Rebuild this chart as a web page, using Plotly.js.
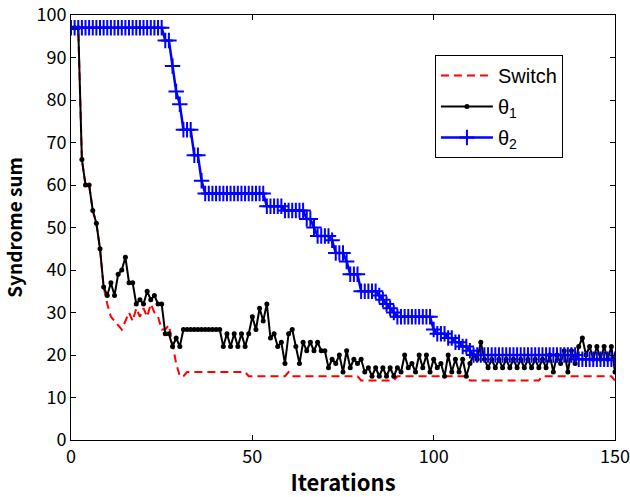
<!DOCTYPE html>
<html>
<head>
<meta charset="utf-8">
<script src="https://cdn.plot.ly/plotly-3.0.1.min.js"></script>
<style>html,body{margin:0;padding:0;background:#fff;}#chart{width:630px;height:497px;}</style>
</head>
<body>
<div id="chart"></div>
<script>
// Syndrome sum per iteration (iterations 0..150)
const switchVals = [
  97, 97, 97, 66, 60, 60, 54, 51, 45, 36,
  32, 29, 28, 27, 26, 28, 30, 28, 31, 29,
  31, 29, 32, 30, 29, 26, 26, 27, 22, 18,
  15, 15, 16, 16, 16, 16, 16, 16, 16, 16,
  16, 16, 16, 16, 16, 16, 16, 16, 16, 15,
  15, 15, 15, 15, 15, 15, 15, 15, 15, 15,
  16, 15, 15, 15, 15, 15, 15, 15, 15, 15,
  15, 15, 15, 15, 15, 15, 15, 15, 15, 15,
  14, 14, 14, 14, 14, 14, 14, 14, 14, 14,
  15, 15, 15, 15, 15, 15, 15, 15, 15, 15,
  15, 15, 15, 15, 15, 15, 15, 15, 15, 15,
  14, 14, 14, 14, 14, 14, 14, 14, 14, 14,
  14, 14, 14, 14, 14, 14, 14, 14, 14, 14,
  15, 15, 15, 15, 15, 15, 15, 15, 15, 15,
  15, 15, 15, 15, 15, 15, 15, 15, 15, 15,
  14
];
const theta1Vals = [
  97, 97, 97, 66, 60, 60, 54, 51, 45, 36,
  34, 37, 34, 39, 40, 43, 37, 37, 32, 33,
  32, 35, 33, 34, 32, 32, 25, 25, 22, 24,
  22, 26, 26, 26, 26, 26, 26, 26, 26, 26,
  26, 26, 22, 25, 22, 25, 22, 25, 22, 25,
  29, 26, 31, 28, 32, 24, 25, 22, 23, 18,
  25, 26, 22, 18, 23, 21, 23, 21, 23, 21,
  21, 17, 19, 18, 20, 16, 21, 17, 19, 18,
  19, 16, 17, 15, 17, 15, 17, 15, 17, 15,
  17, 16, 20, 17, 18, 16, 20, 17, 20, 16,
  19, 17, 18, 15, 20, 16, 19, 16, 19, 15,
  18, 20, 19, 23, 19, 17, 19, 17, 19, 17,
  19, 17, 19, 17, 19, 17, 19, 17, 19, 17,
  19, 17, 20, 16, 20, 18, 21, 16, 21, 18,
  22, 24, 20, 22, 19, 22, 19, 22, 19, 22,
  16
];
const theta2Vals = [
  97, 97, 97, 97, 97, 97, 97, 97, 97, 97,
  97, 97, 97, 97, 97, 97, 97, 97, 97, 97,
  97, 97, 97, 97, 97, 97, 94, 94, 88, 82,
  79, 73, 73, 73, 67, 67, 61, 58, 58, 58,
  58, 58, 58, 58, 58, 58, 58, 58, 58, 58,
  58, 58, 58, 58, 55, 55, 55, 55, 55, 54,
  54, 54, 54, 54, 54, 52, 52, 50, 48, 48,
  48, 48, 47, 44, 44, 44, 42, 39, 39, 39,
  35, 35, 35, 35, 35, 34, 33, 32, 31, 30,
  29, 29, 29, 29, 29, 29, 29, 29, 29, 29,
  26, 25, 25, 25, 24, 24, 23, 23, 22, 22,
  21, 20, 20, 20, 20, 20, 20, 20, 20, 20,
  20, 20, 20, 20, 20, 20, 20, 20, 20, 20,
  20, 20, 20, 20, 20, 20, 20, 20, 20, 20,
  19, 19, 19, 19, 19, 19, 19, 19, 19, 19,
  19
];
const seriesNames = ['Switch', 'θ<sub>1</sub>', 'θ<sub>2</sub>'];
const xTickVals = [0, 50, 100, 150];
const yTickVals = [0, 10, 20, 30, 40, 50, 60, 70, 80, 90, 100];
const xTitle = 'Iterations';
const yTitle = 'Syndrome sum';

const iters = switchVals.map((_, i) => i);

const tickFont = {family: 'Noto Sans CJK JP, DejaVu Sans Condensed, sans-serif', size: 18, color: '#000'};
const xTitleFont = {family: 'Noto Sans CJK JP, sans-serif', size: 22, color: '#000', weight: 700};
const yTitleFont = {family: 'Noto Sans CJK JP, sans-serif', size: 19, color: '#000', weight: 700};

const traces = [
  {x: iters, y: switchVals, name: seriesNames[0], legendgroup: 'a', type: 'scatter', mode: 'lines',
   line: {color: '#ff0000', width: 2, dash: '8px,5px'}},
  {x: iters, y: theta1Vals, name: seriesNames[1], legendgroup: 'b', type: 'scatter', mode: 'lines+markers',
   line: {color: '#000000', width: 2}, marker: {symbol: 'circle', size: 5, color: '#000000'}},
  {x: iters, y: theta2Vals, name: seriesNames[2], legendgroup: 'c', type: 'scatter', mode: 'lines+markers',
   line: {color: '#0000ff', width: 2.5},
   marker: {symbol: 'cross-thin-open', size: 11, color: '#0000ff', line: {color: '#0000ff', width: 2}}}
];

const axisCommon = {
  showline: true, linecolor: '#000', linewidth: 1, mirror: 'allticks',
  ticks: 'inside', ticklen: 5, tickcolor: '#000', tickwidth: 1,
  showgrid: false, zeroline: false, tickfont: tickFont
};

const layout = {
  width: 630, height: 497,
  margin: {l: 71, r: 15, t: 15, b: 57},
  paper_bgcolor: '#fff', plot_bgcolor: '#fff',
  showlegend: true,
  xaxis: Object.assign({}, axisCommon, {
    range: [0, 150], tickvals: xTickVals, ticktext: xTickVals.map(String),
    title: {text: xTitle, font: xTitleFont, standoff: 12}
  }),
  yaxis: Object.assign({}, axisCommon, {
    range: [0, 100], tickvals: yTickVals, ticktext: yTickVals.map(String),
    title: {text: yTitle, font: yTitleFont, standoff: 10}
  }),
  legend: {
    x: 0.669, y: 0.906, xanchor: 'left', yanchor: 'top',
    bgcolor: '#fff', bordercolor: '#000', borderwidth: 1,
    font: {family: 'Liberation Sans, Arial, sans-serif', size: 20, color: '#000'},
    itemwidth: 52, tracegroupgap: 2
  }
};

Plotly.newPlot('chart', traces, layout, {displayModeBar: false, staticPlot: true});
</script>
</body>
</html>
